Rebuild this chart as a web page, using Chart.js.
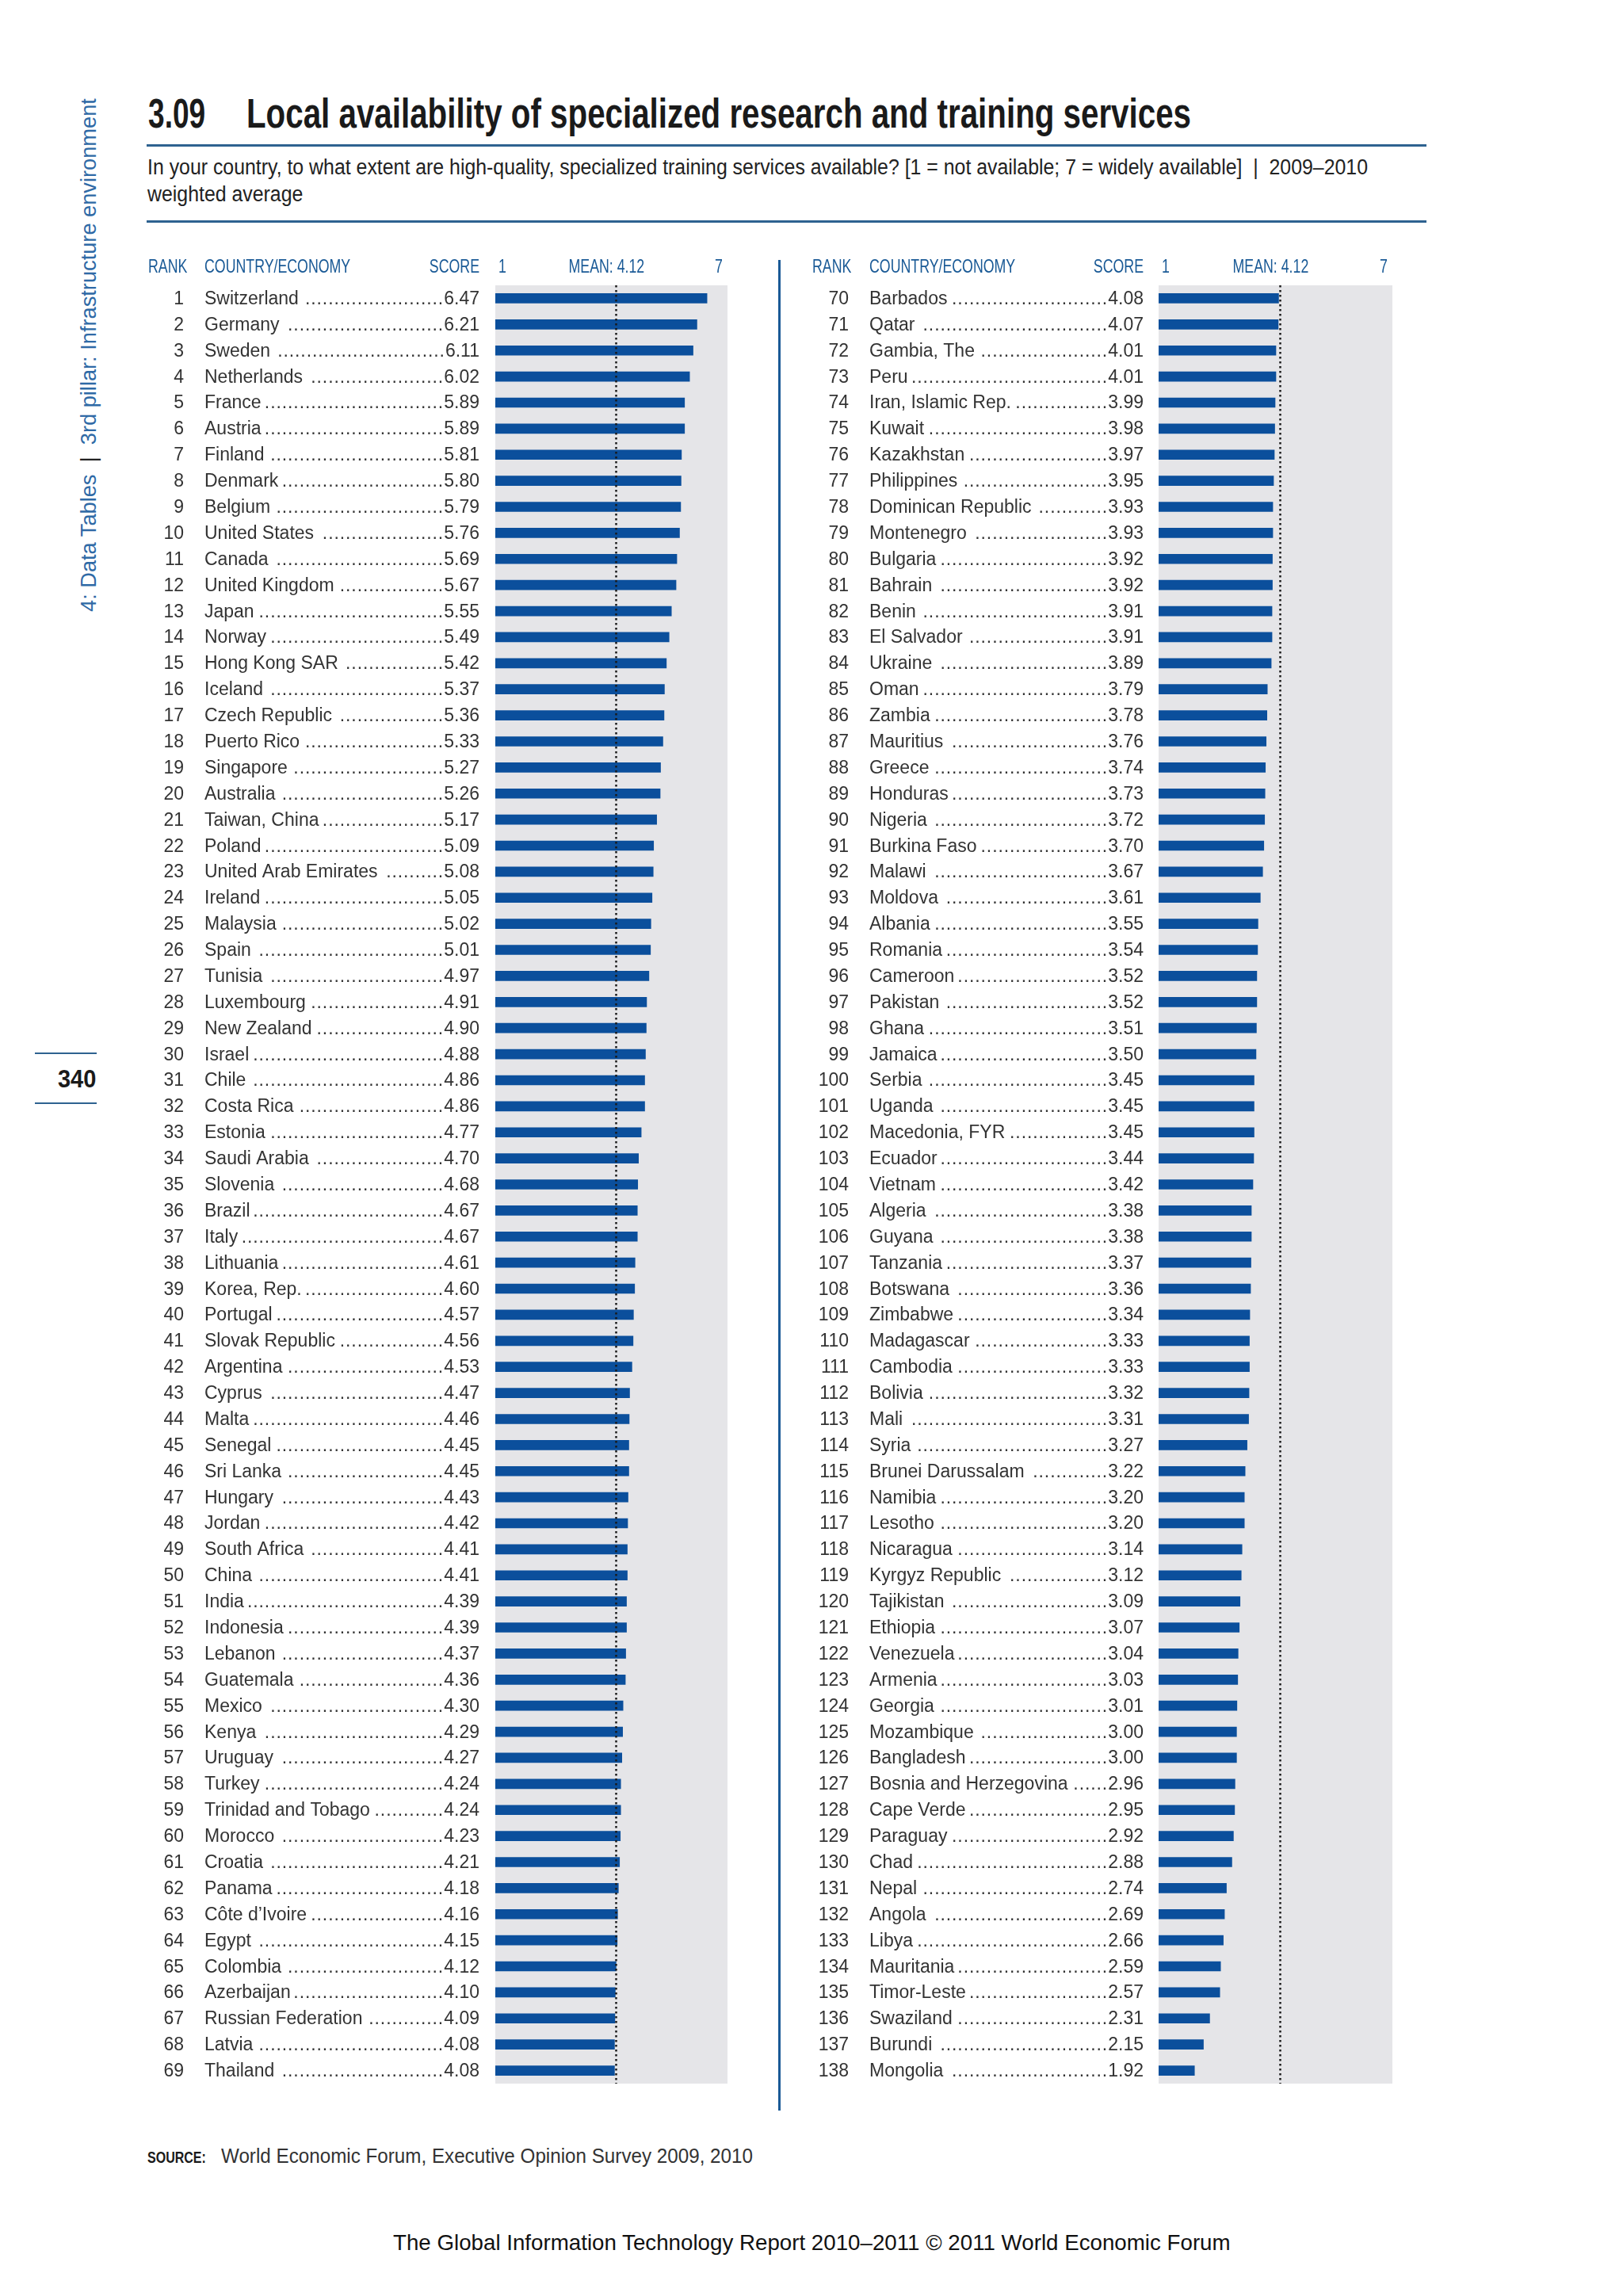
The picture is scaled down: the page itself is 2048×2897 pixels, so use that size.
<!DOCTYPE html>
<html>
<head>
<meta charset="utf-8">
<script src="https://cdn.jsdelivr.net/npm/chart.js@4.4.1/dist/chart.umd.min.js"></script>
<style>
html, body { margin: 0; padding: 0; background: #fff; }
body { width: 2048px; height: 2897px; position: relative; overflow: hidden; font-family: "Liberation Sans", Arial, sans-serif; }
.abs { position: absolute; white-space: nowrap; transform-origin: 0 0; }
.rule { position: absolute; background: #2e6290; }
canvas { position: absolute; }
</style>
</head>
<body>

<div id="sideText" class="abs" style="left:99px;top:772px;font-size:27px;line-height:27px;color:#2f6aa6;">4: Data Tables&nbsp;&nbsp;<span style="color:#222">|</span>&nbsp;&nbsp;3rd pillar: Infrastructure environment</div>
<div class="rule" style="left:44px;top:1328px;width:78px;height:2px;"></div>
<div id="pageNum" class="abs" style="left:73px;top:1345px;font-size:32px;line-height:32px;font-weight:bold;color:#1a1a1a;">340</div>
<div class="rule" style="left:44px;top:1391px;width:78px;height:2px;"></div>

<div id="titleNum" class="abs" style="left:187px;top:118px;font-size:51px;line-height:51px;font-weight:bold;color:#1a1a1a;">3.09</div>
<div id="titleText" class="abs" style="left:311px;top:118px;font-size:51px;line-height:51px;font-weight:bold;color:#1a1a1a;">Local availability of specialized research and training services</div>
<div class="rule" style="left:185px;top:182px;width:1615px;height:3px;"></div>
<div id="sub1" class="abs" style="left:186px;top:198px;font-size:27px;line-height:27px;color:#222;">In your country, to what extent are high-quality, specialized training services available? [1 = not available; 7 = widely available]&nbsp;&nbsp;|&nbsp;&nbsp;2009–2010</div>
<div id="sub2" class="abs" style="left:186px;top:232px;font-size:27px;line-height:27px;color:#222;">weighted average</div>
<div class="rule" style="left:185px;top:278px;width:1615px;height:3px;"></div>

<canvas id="leftChart" width="760" height="2340" style="left:170px;top:310px;"></canvas>
<div class="rule" style="left:982px;top:328px;width:3px;height:2335px;background:#1a5a96;"></div>
<canvas id="rightChart" width="770" height="2340" style="left:1000px;top:310px;"></canvas>

<div id="srcLabel" class="abs" style="left:186px;top:2711px;font-size:21px;line-height:21px;font-weight:bold;color:#1a1a1a;">SOURCE:</div>
<div id="srcText" class="abs" style="left:279px;top:2708px;font-size:25px;line-height:25px;color:#333;">World Economic Forum, Executive Opinion Survey 2009, 2010</div>
<div id="footer" class="abs" style="left:496px;top:2816px;font-size:28px;line-height:28px;color:#111;">The Global Information Technology Report 2010–2011 © 2011 World Economic Forum</div>

<script>
// --- DATA ---
const leftCountries = ['Switzerland', 'Germany', 'Sweden', 'Netherlands', 'France', 'Austria', 'Finland', 'Denmark', 'Belgium', 'United States',
    'Canada', 'United Kingdom', 'Japan', 'Norway', 'Hong Kong SAR', 'Iceland', 'Czech Republic', 'Puerto Rico', 'Singapore', 'Australia',
    'Taiwan, China', 'Poland', 'United Arab Emirates', 'Ireland', 'Malaysia', 'Spain', 'Tunisia', 'Luxembourg', 'New Zealand', 'Israel',
    'Chile', 'Costa Rica', 'Estonia', 'Saudi Arabia', 'Slovenia', 'Brazil', 'Italy', 'Lithuania', 'Korea, Rep.', 'Portugal',
    'Slovak Republic', 'Argentina', 'Cyprus', 'Malta', 'Senegal', 'Sri Lanka', 'Hungary', 'Jordan', 'South Africa', 'China',
    'India', 'Indonesia', 'Lebanon', 'Guatemala', 'Mexico', 'Kenya', 'Uruguay', 'Turkey', 'Trinidad and Tobago', 'Morocco',
    'Croatia', 'Panama', 'Côte d’Ivoire', 'Egypt', 'Colombia', 'Azerbaijan', 'Russian Federation', 'Latvia', 'Thailand'];
const leftScores = [6.47, 6.21, 6.11, 6.02, 5.89, 5.89, 5.81, 5.80, 5.79, 5.76,
    5.69, 5.67, 5.55, 5.49, 5.42, 5.37, 5.36, 5.33, 5.27, 5.26,
    5.17, 5.09, 5.08, 5.05, 5.02, 5.01, 4.97, 4.91, 4.90, 4.88,
    4.86, 4.86, 4.77, 4.70, 4.68, 4.67, 4.67, 4.61, 4.60, 4.57,
    4.56, 4.53, 4.47, 4.46, 4.45, 4.45, 4.43, 4.42, 4.41, 4.41,
    4.39, 4.39, 4.37, 4.36, 4.30, 4.29, 4.27, 4.24, 4.24, 4.23,
    4.21, 4.18, 4.16, 4.15, 4.12, 4.10, 4.09, 4.08, 4.08];

const rightCountries = ['Barbados', 'Qatar', 'Gambia, The', 'Peru', 'Iran, Islamic Rep.', 'Kuwait', 'Kazakhstan', 'Philippines', 'Dominican Republic', 'Montenegro',
    'Bulgaria', 'Bahrain', 'Benin', 'El Salvador', 'Ukraine', 'Oman', 'Zambia', 'Mauritius', 'Greece', 'Honduras',
    'Nigeria', 'Burkina Faso', 'Malawi', 'Moldova', 'Albania', 'Romania', 'Cameroon', 'Pakistan', 'Ghana', 'Jamaica',
    'Serbia', 'Uganda', 'Macedonia, FYR', 'Ecuador', 'Vietnam', 'Algeria', 'Guyana', 'Tanzania', 'Botswana', 'Zimbabwe',
    'Madagascar', 'Cambodia', 'Bolivia', 'Mali', 'Syria', 'Brunei Darussalam', 'Namibia', 'Lesotho', 'Nicaragua', 'Kyrgyz Republic',
    'Tajikistan', 'Ethiopia', 'Venezuela', 'Armenia', 'Georgia', 'Mozambique', 'Bangladesh', 'Bosnia and Herzegovina', 'Cape Verde', 'Paraguay',
    'Chad', 'Nepal', 'Angola', 'Libya', 'Mauritania', 'Timor-Leste', 'Swaziland', 'Burundi', 'Mongolia'];
const rightScores = [4.08, 4.07, 4.01, 4.01, 3.99, 3.98, 3.97, 3.95, 3.93, 3.93,
    3.92, 3.92, 3.91, 3.91, 3.89, 3.79, 3.78, 3.76, 3.74, 3.73,
    3.72, 3.70, 3.67, 3.61, 3.55, 3.54, 3.52, 3.52, 3.51, 3.50,
    3.45, 3.45, 3.45, 3.44, 3.42, 3.38, 3.38, 3.37, 3.36, 3.34,
    3.33, 3.33, 3.32, 3.31, 3.27, 3.22, 3.20, 3.20, 3.14, 3.12,
    3.09, 3.07, 3.04, 3.03, 3.01, 3.00, 3.00, 2.96, 2.95, 2.92,
    2.88, 2.74, 2.69, 2.66, 2.59, 2.57, 2.31, 2.15, 1.92];

const leftFirstRank = 1;
const rightFirstRank = 70;
const scaleMin = 1;
const scaleMax = 7;
const meanScore = 4.12;
const headerLabels = ['RANK', 'COUNTRY/ECONOMY', 'SCORE'];

// --- STYLE ---
const barBlue = '#0b4f9c';
const bandGray = '#e5e5e8';
const headBlue = '#1a5a96';
const rowFont = '23px "Liberation Sans", Arial, sans-serif';
const headFont = '24px "Liberation Sans", Arial, sans-serif';

// condensed text helper for the blue header row
function condText(ctx, text, x, y, align, sx) {
    ctx.save();
    ctx.translate(x, y);
    ctx.scale(sx, 1);
    ctx.textAlign = align;
    ctx.fillText(text, 0, 0);
    ctx.restore();
}

function makePanel(canvasId, countries, scores, firstRank, cols) {
    const panelPlugin = {
        id: 'panel',
        beforeDatasetsDraw(chart) {
            const { ctx, chartArea: a } = chart;
            ctx.save();
            ctx.fillStyle = bandGray;
            ctx.fillRect(a.left, a.top, a.right - a.left, a.bottom - a.top);
            ctx.restore();
        },
        afterDatasetsDraw(chart) {
            const { ctx, chartArea: a, scales: { x } } = chart;
            const mx = Math.round(x.getPixelForValue(meanScore)) + 0.5;
            ctx.save();
            ctx.strokeStyle = '#1a1a1a';
            ctx.lineWidth = 2.5;
            ctx.setLineDash([2.5, 3.5]);
            ctx.beginPath();
            ctx.moveTo(mx, a.top);
            ctx.lineTo(mx, a.bottom);
            ctx.stroke();
            ctx.restore();
        },
        afterDraw(chart) {
            const { ctx, scales: { x, y } } = chart;
            ctx.save();
            // header row
            ctx.fillStyle = headBlue;
            ctx.font = headFont;
            ctx.textBaseline = 'alphabetic';
            const hy = cols.headY;
            const sx = 0.74;
            condText(ctx, headerLabels[0], cols.rankHead, hy, 'left', sx);
            condText(ctx, headerLabels[1], cols.name, hy, 'left', sx);
            condText(ctx, headerLabels[2], cols.score, hy, 'right', sx);
            condText(ctx, String(scaleMin), x.getPixelForValue(scaleMin) + 4, hy, 'left', sx);
            condText(ctx, 'MEAN: ' + meanScore.toFixed(2), x.getPixelForValue(meanScore) - 12, hy, 'center', sx);
            condText(ctx, String(scaleMax), x.getPixelForValue(scaleMax) - 6, hy, 'right', sx);

            // rows
            ctx.font = rowFont;
            ctx.fillStyle = '#333';
            countries.forEach((name, i) => {
                const cy = y.getPixelForValue(i) + 7.5;
                const score = scores[i].toFixed(2);
                ctx.textAlign = 'right';
                ctx.fillText(String(firstRank + i), cols.rank, cy);
                ctx.textAlign = 'left';
                ctx.fillText(name, cols.name, cy);
                ctx.textAlign = 'right';
                ctx.fillText(score, cols.score, cy);
                // dot leader
                const start = cols.name + ctx.measureText(name).width + 4;
                let dx = cols.score - ctx.measureText(score).width - 1;
                ctx.textAlign = 'right';
                while (dx - 6 > start) {
                    ctx.fillText('.', dx, cy);
                    dx -= 7.3;
                }
            });
            ctx.restore();
        }
    };

    return new Chart(document.getElementById(canvasId), {
        type: 'bar',
        data: {
            labels: countries,
            datasets: [{
                data: scores,
                base: scaleMin,
                backgroundColor: barBlue,
                borderWidth: 0,
                barThickness: 12
            }]
        },
        options: {
            indexAxis: 'y',
            responsive: false,
            animation: false,
            layout: { padding: cols.pad },
            scales: {
                x: { min: scaleMin, max: scaleMax, display: false },
                y: { display: false }
            },
            plugins: { legend: { display: false }, tooltip: { enabled: false } }
        },
        plugins: [panelPlugin]
    });
}

makePanel('leftChart', leftCountries, leftScores, leftFirstRank, {
    rankHead: 17, rank: 62, name: 88, score: 435, headY: 34,
    pad: { left: 455, right: 12, top: 50, bottom: 21 }
});
makePanel('rightChart', rightCountries, rightScores, rightFirstRank, {
    rankHead: 25, rank: 71, name: 97, score: 443, headY: 34,
    pad: { left: 462, right: 13, top: 50, bottom: 21 }
});

// --- fit condensed page texts to their widths ---
function fit(id, w, rot) {
    const el = document.getElementById(id);
    const s = w / el.offsetWidth;
    el.style.transform = (rot ? 'rotate(-90deg) ' : '') + 'scaleX(' + s + ')';
    return s;
}
fit('titleNum', 72);
fit('titleText', 1192);
const subScale = fit('sub1', 1540);
document.getElementById('sub2').style.transform = 'scaleX(' + subScale + ')';
fit('sideText', 648, true);
fit('pageNum', 48);
fit('srcLabel', 74);
fit('srcText', 671);
fit('footer', 1057);
</script>
</body>
</html>
